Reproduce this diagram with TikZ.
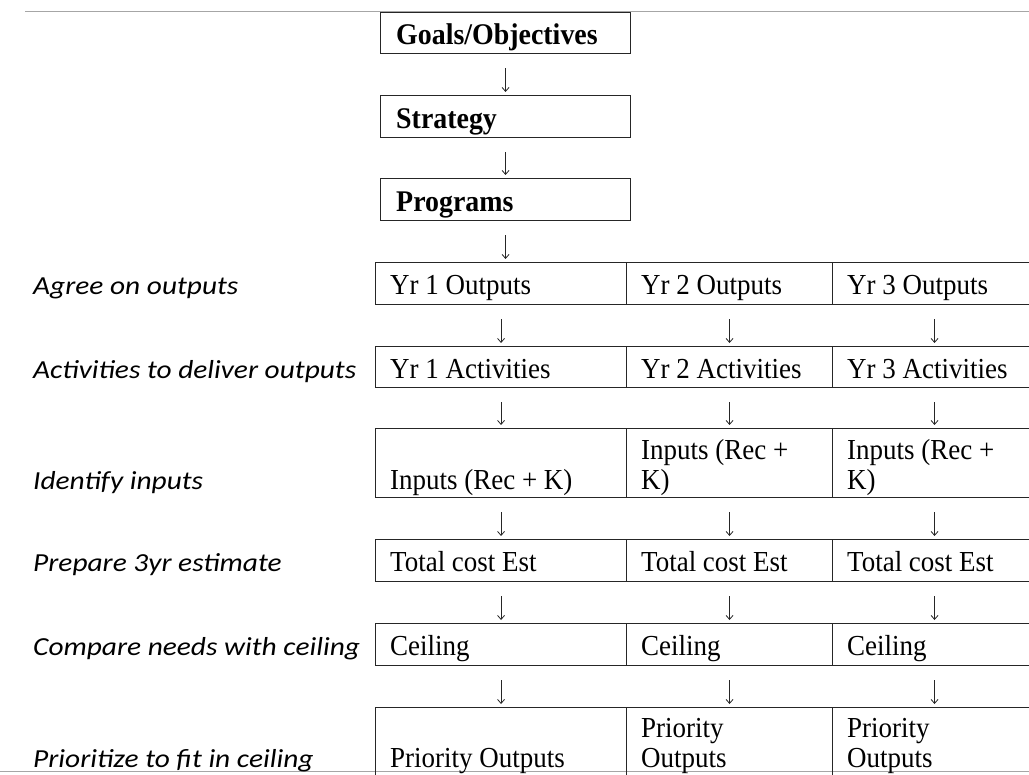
\documentclass[tikz,border=0pt]{standalone}
\usepackage{fontspec}
\setmainfont{Liberation Serif}[FakeStretch=0.93]
\newfontfamily\lblfont[FakeStretch=1.13]{Carlito}
\usetikzlibrary{arrows.meta}
\begin{document}
\begin{tikzpicture}[x=1pt,y=-1pt,
  cell/.style={draw=black!85, line width=1.1pt, rectangle, inner sep=0pt, anchor=north west},
  celltext/.style={anchor=base west, inner sep=0pt, align=left, font=\fontsize{29}{30}\selectfont},
  hdrtext/.style={anchor=base west, inner sep=0pt, font=\fontsize{30}{30}\selectfont\bfseries},
  lbl/.style={anchor=base west, inner sep=0pt, font=\lblfont\itshape\fontsize{26}{30}\selectfont},
  flow/.style={draw=black!85, line width=0.8pt, -{Straight Barb[length=4pt,width=7pt]}, shorten <=14pt, shorten >=3pt},
  scanline/.style={draw=black!35, line width=1pt},
]
\useasboundingbox (0,0) rectangle (1029,775);
\clip (0,0) rectangle (1029,775);
\fill[white] (0,0) rectangle (1029,775);

% scan edge lines
\coordinate (tl) at (25,12);
\coordinate (tr) at (1029,12);
\coordinate (bl) at (0,771);
\coordinate (br) at (1029,771);
\draw[scanline] (tl) -- (tr);
\draw[scanline] (bl) -- (br);

% header boxes
\node[cell, minimum width=250pt, minimum height=41pt] (goals) at (380,12) {};
\node[hdrtext] (goalsT) at (396,45) {Goals/Objectives};
\node[cell, minimum width=250pt, minimum height=42pt] (strat) at (380,95) {};
\node[hdrtext] (stratT) at (396,129) {Strategy};
\node[cell, minimum width=250pt, minimum height=42pt] (prog) at (380,178) {};
\node[hdrtext] (progT) at (396,212) {Programs};

% table cells
% row 1
\node[cell, minimum width=251pt, minimum height=42pt] (c11) at (375,262) {};
\node[cell, minimum width=206pt, minimum height=42pt] (c12) at (626,262) {};
\node[cell, minimum width=204pt, minimum height=42pt] (c13) at (832,262) {};
% row 2
\node[cell, minimum width=251pt, minimum height=41pt] (c21) at (375,346) {};
\node[cell, minimum width=206pt, minimum height=41pt] (c22) at (626,346) {};
\node[cell, minimum width=204pt, minimum height=41pt] (c23) at (832,346) {};
% row 3
\node[cell, minimum width=251pt, minimum height=69pt] (c31) at (375,428) {};
\node[cell, minimum width=206pt, minimum height=69pt] (c32) at (626,428) {};
\node[cell, minimum width=204pt, minimum height=69pt] (c33) at (832,428) {};
% row 4
\node[cell, minimum width=251pt, minimum height=42pt] (c41) at (375,539) {};
\node[cell, minimum width=206pt, minimum height=42pt] (c42) at (626,539) {};
\node[cell, minimum width=204pt, minimum height=42pt] (c43) at (832,539) {};
% row 5
\node[cell, minimum width=251pt, minimum height=42pt] (c51) at (375,623) {};
\node[cell, minimum width=206pt, minimum height=42pt] (c52) at (626,623) {};
\node[cell, minimum width=204pt, minimum height=42pt] (c53) at (832,623) {};
% row 6
\node[cell, minimum width=251pt, minimum height=80pt] (c61) at (375,707) {};
\node[cell, minimum width=206pt, minimum height=80pt] (c62) at (626,707) {};
\node[cell, minimum width=204pt, minimum height=80pt] (c63) at (832,707) {};

% cell texts (base = last line baseline)
\node[celltext] (t11) at (390,295) {Yr 1 Outputs};
\node[celltext] (t12) at (641,295) {Yr 2 Outputs};
\node[celltext] (t13) at (847,295) {Yr 3 Outputs};
\node[celltext] (t21) at (390,379) {Yr 1 Activities};
\node[celltext] (t22) at (641,379) {Yr 2 Activities};
\node[celltext] (t23) at (847,379) {Yr 3 Activities};
\node[celltext] (t31) at (390,490) {Inputs (Rec + K)};
\node[celltext] (t32) at (641,490) {Inputs (Rec +\\K)};
\node[celltext] (t33) at (847,490) {Inputs (Rec +\\K)};
\node[celltext] (t41) at (390,572) {Total cost Est};
\node[celltext] (t42) at (641,572) {Total cost Est};
\node[celltext] (t43) at (847,572) {Total cost Est};
\node[celltext] (t51) at (390,655) {Ceiling};
\node[celltext] (t52) at (641,655) {Ceiling};
\node[celltext] (t53) at (847,655) {Ceiling};
\node[celltext] (t61) at (390,767) {Priority Outputs};
\node[celltext] (t62) at (641,767) {Priority\\Outputs};
\node[celltext] (t63) at (847,767) {Priority\\Outputs};

% left labels
\node[lbl] (l1) at (33,295) {Agree on outputs};
\node[lbl] (l2) at (33,379) {Activities to deliver outputs};
\node[lbl] (l3) at (33,490) {Identify inputs};
\node[lbl] (l4) at (33,572) {Prepare 3yr estimate};
\node[lbl] (l5) at (33,655) {Compare needs with ceiling};
\node[lbl] (l6) at (33,767) {Prioritize to fit in ceiling};

% arrows
\draw[flow] (goals.south) -- (strat.north);
\draw[flow] (strat.south) -- (prog.north);
\draw[flow] (prog.south) -- (prog.south |- c11.north);
\foreach \a/\b in {1/2,2/3,3/4,4/5,5/6}{
  \foreach \c in {1,2,3}{
    \draw[flow] (c\a\c.south) -- (c\b\c.north);
  }
}
\end{tikzpicture}
\end{document}
